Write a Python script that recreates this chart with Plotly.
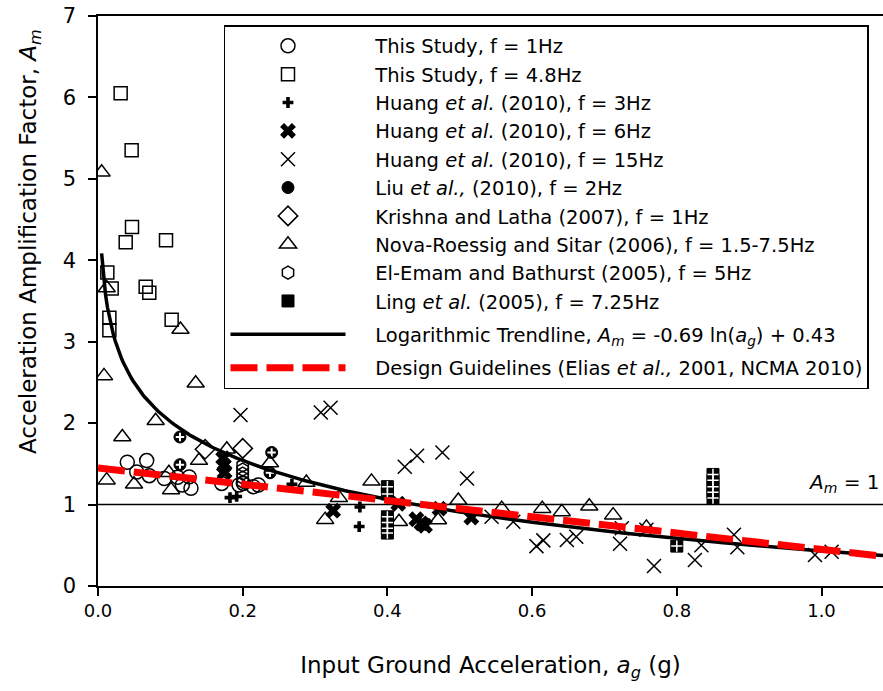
import numpy as np
import plotly.graph_objects as go

# ---------------- data ----------------
study1_x = [0.0405, 0.0673, 0.0535, 0.0709, 0.0917, 0.110, 0.126, 0.1166, 0.1285,
            0.171, 0.195, 0.2009, 0.2147, 0.2216]
study1_y = [1.52, 1.54, 1.40, 1.355, 1.32, 1.335, 1.34, 1.24, 1.20,
            1.26, 1.24, 1.26, 1.22, 1.24]

study48_x = [0.0313, 0.0465, 0.047, 0.0383, 0.094, 0.0129, 0.0189, 0.0659, 0.0709,
             0.0157, 0.0157, 0.1018]
study48_y = [6.05, 5.35, 4.41, 4.22, 4.245, 3.85, 3.655, 3.675, 3.60, 3.295, 3.14, 3.27]

huang3_x = [0.1824, 0.1917, 0.268, 0.362, 0.361]
huang3_y = [1.085, 1.10, 1.25, 0.97, 0.73]

huang6_x = [0.173, 0.174, 0.175, 0.325, 0.415, 0.44, 0.447, 0.452, 0.472, 0.516]
huang6_y = [1.57, 1.48, 1.40, 0.925, 1.01, 0.82, 0.77, 0.74, 0.95, 0.84]

huang15_x = [0.197, 0.308, 0.3215, 0.424, 0.441, 0.476, 0.510, 0.544, 0.574, 0.606,
             0.6155, 0.648, 0.661, 0.724, 0.7215, 0.758, 0.7685, 0.825, 0.834, 0.879,
             0.8837, 0.991, 1.014]
huang15_y = [2.10, 2.13, 2.19, 1.465, 1.60, 1.64, 1.32, 0.85, 0.79, 0.49,
             0.56, 0.565, 0.605, 0.71, 0.52, 0.69, 0.245, 0.32, 0.50, 0.63,
             0.475, 0.38, 0.42]

liu_x = [0.1133, 0.1133, 0.240, 0.2377]
liu_y = [1.83, 1.49, 1.64, 1.39]

krishna_x = [0.148, 0.200]
krishna_y = [1.68, 1.69]

nova_x = [0.005, 0.012, 0.114, 0.0083, 0.135, 0.0797, 0.0336, 0.012, 0.0498, 0.1396,
          0.101, 0.098, 0.178, 0.2377, 0.288, 0.333, 0.314, 0.378, 0.416, 0.470,
          0.498, 0.558, 0.614, 0.641, 0.679, 0.712, 0.758]
nova_y = [5.08, 3.66, 3.15, 2.58, 2.49, 2.03, 1.83, 1.30, 1.25, 1.54,
          1.18, 1.39, 1.68, 1.51, 1.27, 1.085, 0.815, 1.285, 0.79, 0.81,
          1.05, 0.95, 0.95, 0.91, 0.98, 0.87, 0.72]

elemam_x = [0.200, 0.200, 0.200, 0.200, 0.200]
elemam_y = [1.48, 1.43, 1.38, 1.33, 1.28]

ling_x = [0.400, 0.400, 0.400, 0.400, 0.400, 0.400, 0.850, 0.850, 0.850, 0.850, 0.850, 0.800]
ling_y = [1.22, 1.13, 0.85, 0.78, 0.71, 0.65, 1.37, 1.30, 1.22, 1.15, 1.08, 0.49]

# trendline and design guideline coefficients (from the legend / guideline)
trend_a, trend_b = -0.69, 0.43
trend_xmin = 0.005
guide_intercept, guide_slope = 1.45, -1.0

x_ticks = [0.0, 0.2, 0.4, 0.6, 0.8, 1.0]
x_tick_labels = ["0.0", "0.2", "0.4", "0.6", "0.8", "1.0"]
y_ticks = [0, 1, 2, 3, 4, 5, 6, 7]
x_max = 1.085

# ---------------- figure ----------------
FONT = "DejaVu Sans, Liberation Sans, Arial, sans-serif"
PAD = "\u00a0" * 4
fig = go.Figure()


def add_markers(x, y, name, symbol, size, lw=1.5, color="black", lcolor="black",
                group="pts", show=True):
    fig.add_trace(go.Scatter(
        x=x, y=y, mode="markers", name=PAD + name if name else None,
        legendgroup=group, showlegend=show,
        marker=dict(symbol=symbol, size=size, color=color,
                    line=dict(width=lw, color=lcolor)),
    ))


add_markers(study1_x, study1_y, "This Study, f = 1Hz", "circle-open", 14)
add_markers(study48_x, study48_y, "This Study, f = 4.8Hz", "square-open", 13)
add_markers(huang3_x, huang3_y, "Huang <i>et al.</i> (2010), f = 3Hz", "cross", 9, lw=0)
add_markers(huang6_x, huang6_y, "Huang <i>et al.</i> (2010), f = 6Hz", "x", 14, lw=0)
add_markers(huang15_x, huang15_y, "Huang <i>et al.</i> (2010), f = 15Hz", "x-thin-open", 14)
add_markers(liu_x, liu_y, "Liu <i>et al.,</i> (2010), f = 2Hz", "circle", 12, lw=1)
add_markers(liu_x, liu_y, None, "cross-thin-open", 6, lw=2, color="white",
            lcolor="white", show=False)
add_markers(krishna_x, krishna_y, "Krishna and Latha (2007), f = 1Hz", "diamond-open", 15)
add_markers(nova_x, nova_y, "Nova-Roessig and Sitar (2006), f = 1.5-7.5Hz",
            "triangle-up-open", 15)
add_markers(elemam_x, elemam_y, "El-Emam and Bathurst (2005), f = 5Hz", "hexagon-open", 13)
add_markers(ling_x, ling_y, "Ling <i>et al.</i> (2005), f = 7.25Hz", "square", 12, lw=1)
add_markers(ling_x, ling_y, None, "cross-thin-open", 8, lw=1.5, color="white",
            lcolor="white", show=False)

tx = np.linspace(trend_xmin, x_max, 400)
fig.add_trace(go.Scatter(
    x=tx, y=trend_a * np.log(tx) + trend_b, mode="lines", legendgroup="trend",
    name=PAD + "Logarithmic Trendline, <i>A<sub>m</sub></i> = -0.69 ln(<i>a<sub>g</sub></i>) + 0.43",
    line=dict(color="black", width=3.5),
))
gx = np.array([0.0, x_max])
fig.add_trace(go.Scatter(
    x=gx, y=guide_intercept + guide_slope * gx, mode="lines", legendgroup="guide",
    name=PAD + "Design Guidelines (Elias <i>et al.,</i> 2001, NCMA 2010)",
    line=dict(color="#ff0000", width=7, dash="27px,9px"),
))

fig.add_hline(y=1, line=dict(color="black", width=1.5), layer="below")

fig.add_annotation(x=0.978, y=1.27, xref="x", yref="y", xanchor="left", yanchor="middle",
                   text="<i>A<sub>m</sub></i> = 1", showarrow=False,
                   font=dict(family=FONT, size=20, color="black"))

# y-axis title (placed as in the reference, above the axis centre)
fig.add_annotation(x=-0.0866, y=0.6035, xref="paper", yref="paper",
                   xanchor="center", yanchor="middle", textangle=-90, showarrow=False,
                   text="Acceleration Amplification Factor, <i>A<sub>m</sub></i>",
                   font=dict(family=FONT, size=23, color="black"))

fig.update_layout(
    width=883, height=691,
    margin=dict(l=98, r=0, t=16, b=105, autoexpand=False),
    paper_bgcolor="white", plot_bgcolor="white",
    font=dict(family=FONT, size=18, color="black"),
    showlegend=True,
    legend=dict(
        x=0.1605, y=0.984, xanchor="left", yanchor="top",
        bgcolor="white", bordercolor="black", borderwidth=1.5,
        font=dict(family=FONT, size=19.5, color="black"),
        itemwidth=115, tracegroupgap=5, traceorder="grouped",
    ),
    xaxis=dict(
        range=[0, x_max], tickvals=x_ticks, ticktext=x_tick_labels, automargin=False,
        showgrid=False, zeroline=False, showline=True, linecolor="black", linewidth=1.5,
        mirror=True, ticks="outside", ticklen=8, tickwidth=1.5, tickcolor="black",
        tickfont=dict(family=FONT, size=18),
        title=dict(text="Input Ground Acceleration, <i>a<sub>g</sub></i> (g)",
                   font=dict(family=FONT, size=23), standoff=37),
    ),
    yaxis=dict(
        range=[0, 7], tickvals=y_ticks, automargin=False,
        showgrid=False, zeroline=False, showline=True, linecolor="black", linewidth=1.5,
        ticks="outside", ticklen=8, tickwidth=1.5, tickcolor="black",
        tickfont=dict(family=FONT, size=21), ticklabelstandoff=8,
    ),
)

fig.write_html("out.html", config={"displayModeBar": False},
               post_script="document.body.style.margin='0';")
